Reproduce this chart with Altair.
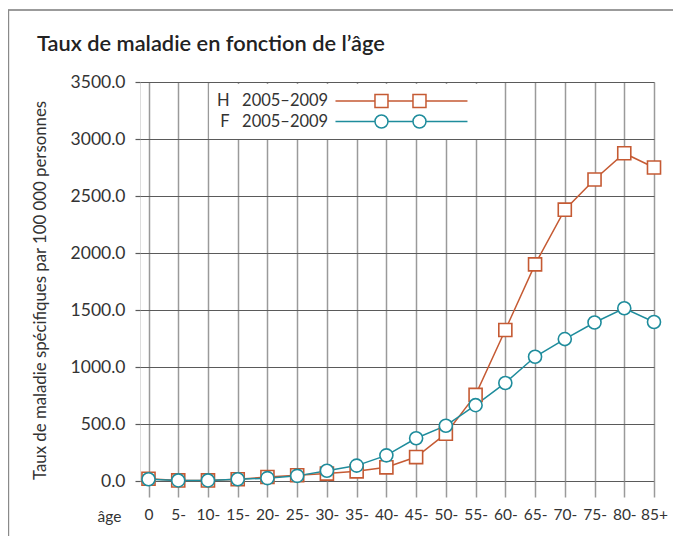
import altair as alt
import pandas as pd

# ---------------- data ----------------
ages = ["0", "5-", "10-", "15-", "20-", "25-", "30-", "35-", "40-", "45-",
        "50-", "55-", "60-", "65-", "70-", "75-", "80-", "85+"]
h_values = [20, 5, 5, 15, 35, 50, 65, 85, 120, 210, 415, 755, 1325, 1900,
            2380, 2645, 2875, 2750]
f_values = [15, 5, 5, 15, 25, 45, 90, 135, 225, 375, 485, 665, 860, 1090,
            1245, 1390, 1515, 1395]
series = ["H\u20032005\u20132009", "F\u20032005\u20132009"]
colors = ["#C55A33", "#1E8C9C"]
shapes = ["square", "circle"]
y_ticks = [0, 500, 1000, 1500, 2000, 2500, 3000, 3500]

rows = []
for name, vals in zip(series, [h_values, f_values]):
    for i, (a, v) in enumerate(zip(ages, vals)):
        rows.append({"series": name, "age": a, "idx": i, "value": v})
df = pd.DataFrame(rows)

FONT = "Lato"
TXT = "#333333"

label_expr = "[" + ",".join("'%s'" % a for a in ages) + "][datum.value]"

# legend symbols: line - marker - line - marker - line (units of 8 px),
# drawn to the right of the label
def _line_marker_path(marker, start=13.66):
    r = 0.8125
    c1, c2, end = start + 5.75, start + 10.5, start + 16.5
    segs = "M%g,0H%g M%g,0H%g M%g,0H%g " % (start, c1 - r, c1 + r, c2 - r, c2 + r, end)
    for c in (c1, c2):
        if marker == "square":
            segs += "M%g,%gH%gV%gH%gZ " % (c - r, -r, c + r, r, c - r)
        else:
            segs += "M%g,0A%g,%g,0,1,1,%g,0A%g,%g,0,1,1,%g,0Z " % (c - r, r, r, c + r, r, r, c - r)
    return segs.strip()

legend_paths = [_line_marker_path(s) for s in shapes]

x_enc = alt.X(
    "idx:Q",
    scale=alt.Scale(domain=[-0.286, 17], nice=False, zero=False),
    axis=alt.Axis(
        values=list(range(len(ages))), labelExpr=label_expr,
        grid=True, gridColor="#9a9a9a", gridWidth=1.5,
        ticks=True, tickColor="#9a9a9a", tickWidth=1.5, tickSize=16,
        domain=False, labelFlush=False, labelPadding=10,
        labelFont=FONT, labelFontSize=15.5, labelColor=TXT,
        title="âge", titleX=-43, titleY=35, titleAlign="left",
        titleBaseline="middle", titleAngle=0, titleFont=FONT,
        titleFontSize=15.5, titleFontWeight="normal", titleColor=TXT,
    ),
)
y_enc = alt.Y(
    "value:Q",
    scale=alt.Scale(domain=[0, 3500], nice=False, zero=True),
    axis=alt.Axis(
        values=y_ticks, format=".1f",
        grid=True, gridColor="#5a5a5a", gridWidth=1.2,
        ticks=True, tickColor="#5a5a5a", tickWidth=1.2, tickSize=5,
        domain=False, labelPadding=10,
        labelFont=FONT, labelFontSize=17.5, labelColor=TXT,
        title="Taux de maladie spécifiques par 100 000 personnes",
        titleX=-100, titleY=208, titleAngle=270, titleAlign="center",
        titleBaseline="middle", titleFont=FONT, titleFontSize=16.8,
        titleFontWeight="normal", titleColor=TXT,
    ),
)

base = alt.Chart(df)

lines = base.mark_line(strokeWidth=1.5).encode(
    x=x_enc, y=y_enc,
    stroke=alt.Stroke("series:N", scale=alt.Scale(domain=series, range=colors), legend=None),
    detail="series:N",
)

points = base.mark_point(filled=False, fill="white", size=170, strokeWidth=1.6, opacity=1).encode(
    x=x_enc, y=y_enc,
    color=alt.Color("series:N", scale=alt.Scale(domain=series, range=colors), legend=None),
    shape=alt.Shape("series:N", scale=alt.Scale(domain=series, range=shapes), legend=None),
)

LABEL_W = 111
legend = alt.Legend(
    title=None, orient="none", legendX=69.2, legendY=2,
    fillColor="white", padding=8, rowPadding=0.5,
    labelFont=FONT, labelFontSize=16.5, labelColor=TXT, labelLimit=400,
    labelAlign="right", labelOffset=LABEL_W - 18,
    symbolSize=256, symbolStrokeWidth=1.5, symbolFillColor="white",
    symbolOffset=0,
)

legend_layer = base.transform_filter("false").mark_point(
    filled=False, fill="white", strokeWidth=1.5, opacity=1
).encode(
    x=x_enc, y=y_enc,
    color=alt.Color("series:N", scale=alt.Scale(domain=series, range=colors), legend=legend),
    shape=alt.Shape("series:N", scale=alt.Scale(domain=series, range=legend_paths), legend=legend),
)

frame_data = alt.Data(values=[{}])
frame_top = alt.Chart(frame_data).mark_rule(color="#7a7a7a", strokeWidth=1.5).encode(
    x=alt.value(-132), x2=alt.value(545), y=alt.value(-72))
frame_left = alt.Chart(frame_data).mark_rule(color="#8a8a8a", strokeWidth=1.2).encode(
    x=alt.value(-131.4), y=alt.value(-72), y2=alt.value(470))

chart = alt.layer(lines, points, legend_layer, frame_top, frame_left).resolve_scale(
    color="independent", shape="independent"
).properties(
    width=514, height=399,
    autosize="none",
    padding={"left": 132, "top": 74, "right": 19, "bottom": 55},
    title=alt.TitleParams(
        "Taux de maladie en fonction de l\u2019âge", anchor="start", frame="group",
        dx=-103, dy=64, offset=0, baseline="alphabetic", font=FONT, fontSize=21.8,
        fontWeight=600, color="#222222",
    ),
).configure_view(stroke=None).configure(background="white")

chart.save("out.html", embed_options={"renderer": "svg", "actions": False})
